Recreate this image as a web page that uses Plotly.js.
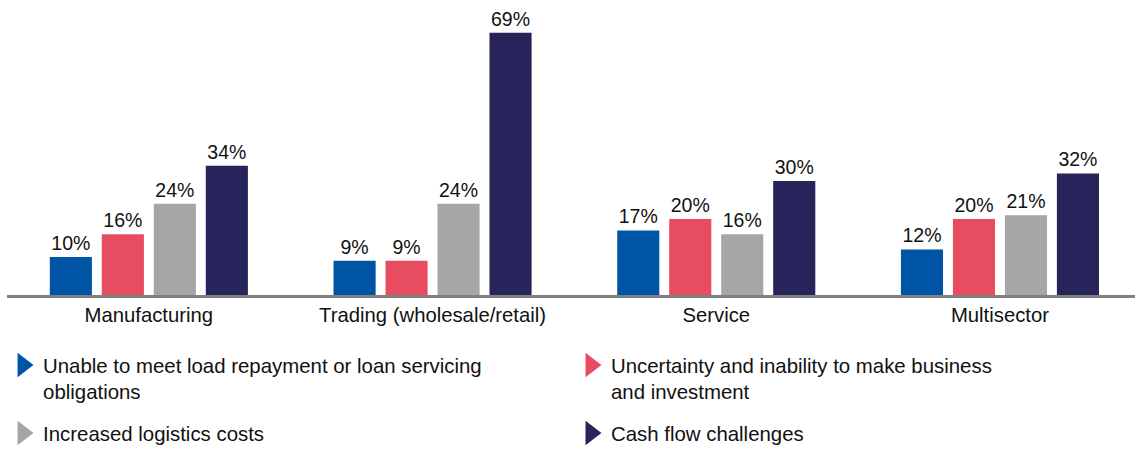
<!DOCTYPE html>
<html>
<head>
<meta charset="utf-8">
<script src="https://cdn.plot.ly/plotly-3.0.1.min.js"></script>
<style>html,body{margin:0;padding:0;background:#fff;}#chart{width:1135px;height:449px;}</style>
</head>
<body>
<div id="chart"></div>
<script>
const categories = ["Manufacturing", "Trading (wholesale/retail)", "Service", "Multisector"];
const seriesNames = [
  "Unable to meet load repayment or loan servicing<br>obligations",
  "Uncertainty and inability to make business<br>and investment",
  "Increased logistics costs",
  "Cash flow challenges"
];
const repayment = [10, 9, 17, 12];
const uncertainty = [16, 9, 20, 20];
const logistics = [24, 24, 16, 21];
const cashflow = [34, 69, 30, 32];
const colors = ["#0054a6", "#e84c61", "#a5a6a5", "#27235b"];
const legendSlots = ["legend", "legend2", "legend", "legend2"];

const values = [repayment, uncertainty, logistics, cashflow];
const font = "Liberation Sans, Arial, sans-serif";

const traces = [];
values.forEach((v, i) => {
  traces.push({
    type: "bar",
    x: categories,
    y: v,
    marker: {color: colors[i]},
    text: v.map(d => d + "%"),
    textposition: "outside",
    textfont: {family: font, size: 19.5, color: "#111"},
    cliponaxis: false,
    constraintext: "none",
    showlegend: false,
    hoverinfo: "skip"
  });
});
values.forEach((v, i) => {
  traces.push({
    type: "scatter",
    mode: "markers",
    x: [null],
    y: [null],
    name: seriesNames[i],
    legend: legendSlots[i],
    legendgroup: "g" + i,
    marker: {symbol: "triangle-right", size: 16, color: colors[i], line: {color: colors[i], width: 3}},
    showlegend: true,
    hoverinfo: "skip"
  });
});

const legendBase = {
  orientation: "v",
  xanchor: "left",
  yanchor: "top",
  y: -0.176,
  valign: "top",
  tracegroupgap: 12,
  font: {family: font, size: 20.4, color: "#111"},
  itemclick: false,
  itemdoubleclick: false,
  bgcolor: "rgba(0,0,0,0)"
};

const layout = {
  width: 1135,
  height: 449,
  margin: {l: 7, r: 0, t: 10, b: 154, autoexpand: false},
  paper_bgcolor: "#fff",
  plot_bgcolor: "#fff",
  barmode: "group",
  bargap: 0.267,
  bargroupgap: 0.19,
  font: {family: font, size: 19, color: "#111"},
  xaxis: {
    type: "category",
    range: [-0.5, 3.476],
    showline: true,
    linecolor: "#808080",
    linewidth: 2.5,
    ticks: "",
    tickfont: {family: font, size: 20.3, color: "#111"},
    showgrid: false,
    zeroline: false,
    fixedrange: true
  },
  yaxis: {
    range: [0, 75],
    visible: false,
    showgrid: false,
    zeroline: false,
    fixedrange: true
  },
  showlegend: true,
  legend: Object.assign({}, legendBase, {x: -0.0035}),
  legend2: Object.assign({}, legendBase, {x: 0.5})
};

Plotly.newPlot("chart", traces, layout, {displayModeBar: false, staticPlot: true});
</script>
</body>
</html>
